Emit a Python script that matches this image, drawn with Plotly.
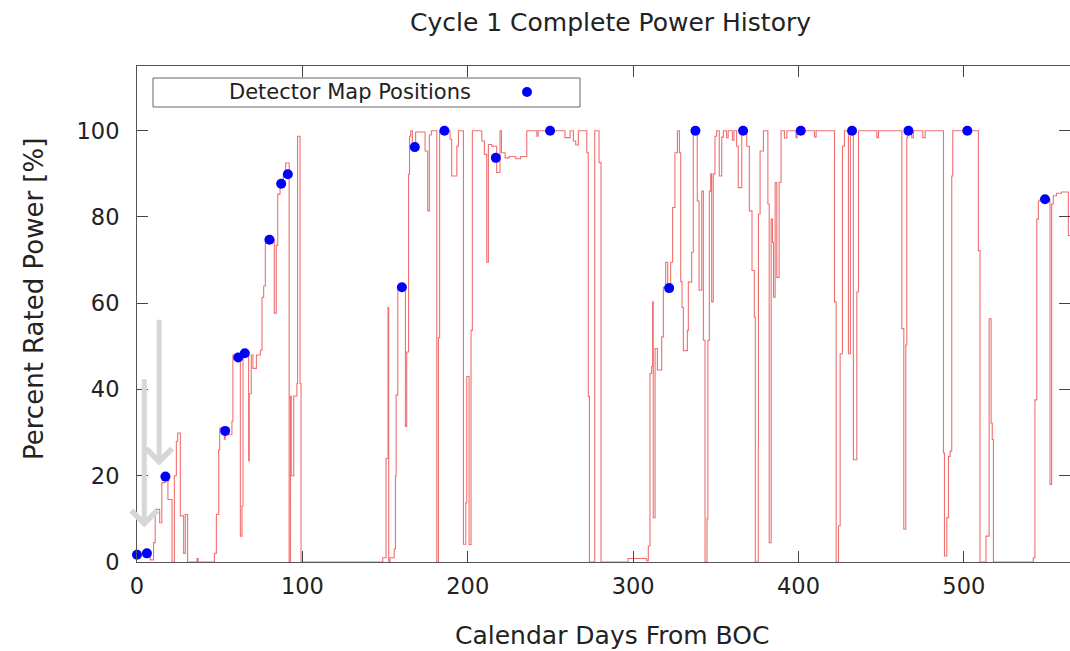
import plotly.graph_objects as go

# ---- power history (step change points: day, percent rated power) ----
power_days = [
    0, 4, 6, 8, 10, 11, 13.7, 15, 17, 18, 18.7, 21.2, 22.6, 23.8, 24.6, 26.2, 28.2, 29.2, 30.6,
    36.3, 37, 46.8, 48, 49.4, 50, 52.8, 53.4, 57.4, 58, 62.5, 63.5, 64.1, 67.5, 67.9, 69.1, 70.1,
    72.2, 74.6, 75.6, 76.6, 77.6, 83, 84.2, 85.1, 86.5, 88.5, 89.9, 92, 92.8, 93.3, 94.8, 96.7,
    97.1, 98.6, 99.2,
    148.6, 150.6, 151.8, 152.2, 153, 155.5, 156.3, 156.7, 157.7, 162.3, 163.1, 164.2, 164.8,
    165.5, 166.5, 168.5, 174.2, 175.8, 176.8, 178, 181.3, 182.3, 183,
    189.3, 190.3, 193.4, 194.4, 197.4, 198.8, 199.4, 200.8, 202, 202.8, 208.5, 210.1, 211.5,
    212.5, 214.5, 217.5, 219.5, 220.4, 222.6, 225, 229, 232, 235.7, 241.8, 242.6, 258.8, 261.9,
    263.9, 265.3, 266.9, 272, 272.9, 273.6, 276.8, 279.4, 280.6,
    297, 308.2, 309.2, 310.2, 311.2, 311.8, 312.2, 313.3, 314.7, 317.3, 318.3, 319.7, 320.9,
    322.7, 323.9, 325.3, 326.8, 328, 328.8, 329.6, 330.4, 332.8, 333.4, 335.4, 336.4, 338.8,
    339.9, 341.5, 342.5, 343.5, 344.7, 345.2, 346.1, 346.9, 347.5, 348.5, 349.5, 350.5, 352.1,
    353.6, 354.6, 356.5, 357.5, 360, 361, 362.6, 363.6, 365.7, 368.7, 370.3, 371.9, 373.3,
    373.9, 375.7,
    375.8, 376.8, 378.8, 381.5, 382.3, 383.5, 384.3, 384.9, 385.9, 386.9, 388.3, 389.5, 391.5,
    393, 398.5, 399.2, 409.7, 410.7, 421.8, 422.8, 424.2, 425.2, 426.6, 427.8, 430.2, 431.4,
    433.2, 435.3, 436.3, 447.4, 448.4, 462.5, 463.7, 464.9, 465.5, 466.1,
    468.5, 469.5, 475.2, 476.6, 487.7, 488.3, 489.7, 490.7, 491.7, 492.7, 493.3, 508.8, 509.8,
    513.4, 515.3, 516.5, 517.2, 517.9, 542, 543, 544.1, 545.1, 546, 552.1, 553.1, 554.1, 556,
    559, 563.2, 566,
]
power_pct = [
    1.7, 1.2, 2.0, 0.5, 4.5, 12.2, 9.1, 18.4, 20, 19, 14.5, 0, 20, 28, 29.9, 10.7, 2, 11, 0,
    0.8, 0, 2, 11, 26, 31, 28.5, 29.5, 32.6, 48, 6, 13, 48.5, 23.4, 39, 48, 44.9,
    48, 49.1, 61.4, 64, 74.9, 57.7, 73.4, 85.3, 87.5, 89.5, 92.5, 0, 38.4, 20, 38.5, 41.4,
    98.7, 41.4, 0,
    1, 24, 59, 0, 1, 3, 20, 38.7, 63.7, 31.4, 48.7, 89.9, 98.7,
    100, 96, 99.7, 95.3, 81.4, 99, 100, 0, 52, 100,
    98, 89.5, 96.4, 100, 4.1, 13.7, 43, 4, 53.7, 100, 97.6, 94.5, 69.5,
    96.8, 96.4, 90.3, 100, 94.9, 93.7, 94, 93.5, 94, 100, 98.7, 100, 98.4, 100,
    97.6, 96.7, 100, 94.9, 38.4, 0, 100, 92.6, 0,
    0.8, 0.3, 3.7, 43.7, 45.3, 60.3, 10.3, 49.5, 44.5, 52.2, 63.7, 69.5, 63.7,
    69.5, 82.2, 94.9, 100, 94.9, 65, 59, 49, 53.7, 64.9, 71.8, 100, 83.7,
    63, 86, 51.4, 0, 10, 51.4, 86, 90, 60.3, 90, 98.7, 100, 89.5,
    98.5, 100, 98.4, 100, 97.8, 100, 96.4, 86.8, 100, 96.4, 81.4, 67.6, 56.8,
    0, 26.8,
    80.7, 95.3, 100, 83, 4.5, 79.5, 74.1, 61.4, 88, 66, 88, 100, 98.3,
    100, 98.4, 100, 98.5, 100, 60.3, 0, 8.4, 48.3, 96.4, 100, 48.3, 100,
    23.7, 62.6, 100, 98.4, 100, 54.1, 7.6, 50.3, 98.4, 100,
    98.4, 100, 98.4, 100, 25.3, 1.4, 10.3, 24.5, 25.7, 89.5, 100, 72.2, 0,
    6, 56.4, 32.2, 28.4, 0, 1, 37.6, 79.5, 83.7, 84, 18, 83, 84.9, 85.5,
    85.8, 75.7, 75.7,
]

# ---- detector map positions ----
map_days = [0, 6, 17.2, 53.3, 61.2, 65.2, 80.1, 87.2, 91.2, 160.2, 168, 185.9, 217, 249.8,
            321.8, 337.7, 366.5, 401.4, 432.4, 466.5, 502.1, 549.1]
map_pct = [1.7, 2.0, 19.8, 30.4, 47.4, 48.4, 74.7, 87.7, 89.9, 63.7, 96.2, 100, 93.7, 100,
           63.5, 100, 100, 100, 100, 100, 100, 84.1]

# ---- marker arrows (tail/tip in data units) ----
arrow_x = [4.4, 13.4]
arrow_tail = [42.7, 56.5]
arrow_tip = [8.0, 22.4]

x_ticks = [0, 100, 200, 300, 400, 500]
y_ticks = [0, 20, 40, 60, 80, 100]

FONT = "DejaVu Sans"

fig = go.Figure()
fig.add_trace(go.Scatter(
    x=power_days, y=power_pct, mode="lines", line_shape="hv",
    line=dict(color="rgb(240,112,112)", width=1.1), showlegend=False, hoverinfo="skip",
))
fig.add_trace(go.Scatter(
    x=map_days, y=map_pct, mode="markers", cliponaxis=False,
    marker=dict(color="#0000ff", size=10, line=dict(width=0)), showlegend=False,
))

annotations = []
for xa, yt, yh in zip(arrow_x, arrow_tail, arrow_tip):
    annotations.append(dict(
        x=xa, y=yh, ax=xa, ay=yt, xref="x", yref="y", axref="x", ayref="y",
        text="", showarrow=True, arrowhead=4, arrowsize=1.0, arrowwidth=5,
        arrowcolor="rgb(215,215,215)", standoff=0,
    ))

# Pixel-based placement helpers (plot area margins)
L, R, T, B = 137, 0, 66, 89
W, H = 1070, 651
pw, ph = W - L - R, H - T - B


def px2paper_x(px):
    return (px - L) / pw


def px2paper_y(py):
    return (H - B - py) / ph


annotations += [
    dict(text="Calendar Days From BOC", x=px2paper_x(611.5), y=px2paper_y(635),
         xref="paper", yref="paper", showarrow=False,
         font=dict(family=FONT, size=25, color="#222"), xanchor="center", yanchor="middle"),
    dict(text="Percent Rated Power [%]", x=px2paper_x(34), y=px2paper_y(299),
         xref="paper", yref="paper", showarrow=False, textangle=-90,
         font=dict(family=FONT, size=26, color="#222"), xanchor="center", yanchor="middle"),
    dict(text="Detector Map Positions", x=px2paper_x(473), y=px2paper_y(92),
         xref="paper", yref="paper", showarrow=False,
         font=dict(family=FONT, size=21, color="#222"), xanchor="right", yanchor="middle"),
]

shapes = [
    dict(type="rect", xref="paper", yref="paper", x0=px2paper_x(153), x1=px2paper_x(580),
         y0=px2paper_y(107), y1=px2paper_y(78), line=dict(color="#666", width=1),
         fillcolor="white", layer="above"),
    dict(type="circle", xref="paper", yref="paper", x0=px2paper_x(522), x1=px2paper_x(532),
         y0=px2paper_y(97), y1=px2paper_y(87), line=dict(width=0), fillcolor="#0000ff",
         layer="above"),
]

fig.update_layout(
    width=W, height=H,
    margin=dict(l=L, r=R, t=T, b=B, pad=0),
    paper_bgcolor="white", plot_bgcolor="white",
    title=dict(text="Cycle 1 Complete Power History", x=610.5 / W, xref="container",
               xanchor="center", y=1 - 22 / H, yref="container", yanchor="middle",
               font=dict(family=FONT, size=25, color="#222")),
    xaxis=dict(range=[0, 564.2], tickvals=x_ticks, ticks="inside", ticklen=11,
               tickcolor="#444", showline=True, linecolor="#555", linewidth=1,
               mirror="ticks", showgrid=False, zeroline=False, layer="above traces",
               tickfont=dict(family=FONT, size=22.5, color="#222"), ticklabelstandoff=4),
    yaxis=dict(range=[0, 115], tickvals=y_ticks, ticks="inside", ticklen=11,
               tickcolor="#444", showline=True, linecolor="#555", linewidth=1,
               mirror="ticks", showgrid=False, zeroline=False, layer="above traces",
               tickfont=dict(family=FONT, size=22.5, color="#222"), ticklabelstandoff=12),
    annotations=annotations, shapes=shapes, showlegend=False,
)

fig.write_html("out.html")
